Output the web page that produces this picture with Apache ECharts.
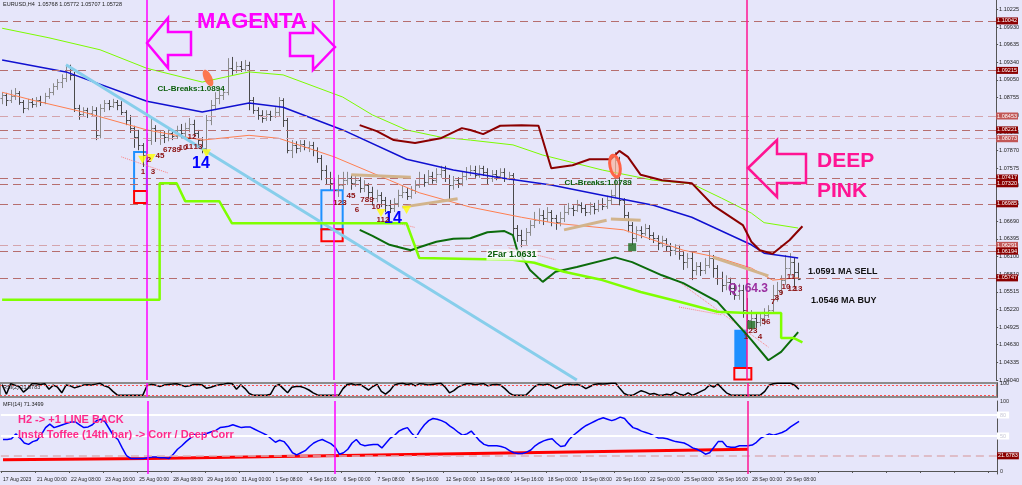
<!DOCTYPE html>
<html>
<head>
<meta charset="utf-8">
<title>EURUSD,H4</title>
<script src="https://cdn.jsdelivr.net/npm/echarts@6/dist/echarts.min.js"></script>
<style>
html, body { margin: 0; padding: 0; background: #e6e6fa; }
#main { width: 1022px; height: 485px; }
</style>
</head>
<body>
<div id="main"></div>
<script>
// time axis: one label every 8 H4 bars
var timeTicks = ['17 Aug 2023', '21 Aug 00:00', '22 Aug 08:00', '23 Aug 16:00', '25 Aug 00:00', '28 Aug 08:00',
	'29 Aug 16:00', '31 Aug 00:00', '1 Sep 08:00', '4 Sep 16:00', '6 Sep 00:00', '7 Sep 08:00', '8 Sep 16:00',
	'12 Sep 00:00', '13 Sep 08:00', '14 Sep 16:00', '18 Sep 00:00', '19 Sep 08:00', '20 Sep 16:00', '22 Sep 00:00',
	'25 Sep 08:00', '26 Sep 16:00', '28 Sep 00:00', '29 Sep 08:00'];

var priceTicks = ['1.04040', '1.04335', '1.04630', '1.04925', '1.05220', '1.05515', '1.05810', '1.06100', '1.06395',
	'1.06690', '1.06985', '1.07280', '1.07575', '1.07870', '1.08165', '1.08460', '1.08755', '1.09050', '1.09340',
	'1.09635', '1.09930', '1.10225'];

// horizontal levels drawn on the chart
var levelPrices = [1.10042, 1.09215, 1.08453, 1.08221, 1.08073, 1.07417, 1.07320, 1.06985, 1.06291, 1.06194, 1.05747];
var levelLight = [2, 4, 8];

// EURUSD H4 bars: [open, close, low, high]
var bars = [
	[1.0875,1.0880,1.0865,1.0885],[1.0880,1.0872,1.0862,1.0884],[1.0872,1.0879,1.0867,1.0889],[1.0879,1.0884,1.0872,1.0892],
	[1.0884,1.0869,1.0864,1.0887],[1.0869,1.0859,1.0850,1.0872],[1.0859,1.0869,1.0855,1.0874],[1.0869,1.0865,1.0859,1.0875],
	[1.0865,1.0872,1.0860,1.0877],[1.0872,1.0869,1.0862,1.0879],[1.0869,1.0879,1.0865,1.0884],[1.0879,1.0885,1.0874,1.0892],
	[1.0885,1.0895,1.0880,1.0900],[1.0895,1.0902,1.0889,1.0907],[1.0902,1.0909,1.0892,1.0915],[1.0909,1.0922,1.0902,1.0929],
	[1.0922,1.0914,1.0905,1.0931],[1.0914,1.0859,1.0852,1.0919],[1.0859,1.0849,1.0839,1.0864],[1.0849,1.0855,1.0844,1.0860],
	[1.0855,1.0850,1.0842,1.0859],[1.0850,1.0855,1.0845,1.0862],[1.0855,1.0813,1.0805,1.0860],[1.0813,1.0859,1.0808,1.0865],
	[1.0859,1.0867,1.0852,1.0872],[1.0867,1.0862,1.0855,1.0872],[1.0862,1.0869,1.0859,1.0874],[1.0869,1.0864,1.0855,1.0872],
	[1.0864,1.0852,1.0847,1.0870],[1.0852,1.0839,1.0830,1.0855],[1.0839,1.0825,1.0817,1.0847],[1.0825,1.0810,1.0792,1.0829],
	[1.0810,1.0797,1.0788,1.0822],[1.0797,1.0780,1.0760,1.0800],[1.0780,1.0805,1.0763,1.0817],[1.0805,1.0825,1.0797,1.0842],
	[1.0825,1.0808,1.0802,1.0830],[1.0808,1.0813,1.0797,1.0822],[1.0813,1.0810,1.0800,1.0820],[1.0810,1.0817,1.0803,1.0825],
	[1.0817,1.0812,1.0805,1.0823],[1.0812,1.0822,1.0807,1.0829],[1.0822,1.0817,1.0808,1.0832],[1.0817,1.0825,1.0810,1.0834],
	[1.0825,1.0832,1.0818,1.0842],[1.0832,1.0817,1.0810,1.0839],[1.0817,1.0805,1.0797,1.0822],[1.0805,1.0792,1.0783,1.0810],
	[1.0792,1.0839,1.0787,1.0847],[1.0839,1.0864,1.0830,1.0872],[1.0864,1.0875,1.0855,1.0885],[1.0875,1.0880,1.0865,1.0889],
	[1.0880,1.0885,1.0872,1.0892],[1.0885,1.0925,1.0880,1.0942],[1.0925,1.0922,1.0914,1.0944],[1.0922,1.0929,1.0917,1.0936],
	[1.0929,1.0924,1.0919,1.0937],[1.0924,1.0931,1.0920,1.0939],[1.0931,1.0872,1.0855,1.0936],[1.0872,1.0855,1.0849,1.0877],
	[1.0855,1.0847,1.0839,1.0860],[1.0847,1.0842,1.0834,1.0855],[1.0842,1.0849,1.0837,1.0855],[1.0849,1.0845,1.0837,1.0854],
	[1.0845,1.0852,1.0842,1.0860],[1.0852,1.0872,1.0844,1.0877],[1.0872,1.0839,1.0827,1.0875],[1.0839,1.0788,1.0783,1.0842],
	[1.0788,1.0797,1.0775,1.0805],[1.0797,1.0792,1.0783,1.0803],[1.0792,1.0798,1.0785,1.0805],[1.0798,1.0793,1.0788,1.0805],
	[1.0793,1.0797,1.0785,1.0803],[1.0797,1.0788,1.0778,1.0802],[1.0788,1.0775,1.0767,1.0793],[1.0775,1.0755,1.0738,1.0780],
	[1.0755,1.0742,1.0730,1.0763],[1.0742,1.0733,1.0722,1.0752],[1.0733,1.0722,1.0705,1.0742],[1.0722,1.0730,1.0710,1.0747],
	[1.0730,1.0738,1.0722,1.0752],[1.0738,1.0742,1.0730,1.0752],[1.0742,1.0733,1.0722,1.0747],[1.0733,1.0738,1.0727,1.0745],
	[1.0738,1.0725,1.0717,1.0743],[1.0725,1.0730,1.0718,1.0738],[1.0730,1.0718,1.0708,1.0733],[1.0718,1.0708,1.0696,1.0727],
	[1.0708,1.0713,1.0701,1.0722],[1.0713,1.0705,1.0693,1.0718],[1.0705,1.0696,1.0685,1.0710],[1.0696,1.0691,1.0683,1.0705],
	[1.0691,1.0700,1.0685,1.0708],[1.0700,1.0713,1.0693,1.0722],[1.0713,1.0718,1.0708,1.0730],[1.0718,1.0712,1.0705,1.0725],
	[1.0712,1.0722,1.0707,1.0728],[1.0722,1.0730,1.0715,1.0738],[1.0730,1.0742,1.0725,1.0752],[1.0742,1.0735,1.0727,1.0748],
	[1.0735,1.0745,1.0730,1.0755],[1.0745,1.0738,1.0732,1.0752],[1.0738,1.0748,1.0733,1.0758],[1.0748,1.0755,1.0742,1.0762],
	[1.0755,1.0742,1.0735,1.0762],[1.0742,1.0730,1.0705,1.0747],[1.0730,1.0738,1.0722,1.0745],[1.0738,1.0733,1.0725,1.0743],
	[1.0733,1.0745,1.0728,1.0752],[1.0745,1.0752,1.0738,1.0760],[1.0752,1.0755,1.0745,1.0763],[1.0755,1.0747,1.0742,1.0762],
	[1.0747,1.0758,1.0742,1.0763],[1.0758,1.0752,1.0745,1.0762],[1.0752,1.0742,1.0730,1.0758],[1.0742,1.0748,1.0735,1.0755],
	[1.0748,1.0745,1.0738,1.0755],[1.0745,1.0752,1.0742,1.0758],[1.0752,1.0742,1.0735,1.0758],[1.0742,1.0747,1.0738,1.0752],
	[1.0747,1.0658,1.0643,1.0750],[1.0658,1.0646,1.0635,1.0663],[1.0646,1.0638,1.0626,1.0655],[1.0638,1.0651,1.0630,1.0658],
	[1.0651,1.0663,1.0645,1.0671],[1.0663,1.0671,1.0658,1.0685],[1.0671,1.0680,1.0665,1.0691],[1.0680,1.0675,1.0663,1.0688],
	[1.0675,1.0685,1.0668,1.0693],[1.0685,1.0675,1.0661,1.0688],[1.0675,1.0668,1.0655,1.0680],[1.0668,1.0675,1.0661,1.0685],
	[1.0675,1.0685,1.0668,1.0696],[1.0685,1.0691,1.0680,1.0700],[1.0691,1.0688,1.0678,1.0696],[1.0688,1.0696,1.0685,1.0705],
	[1.0696,1.0691,1.0683,1.0701],[1.0691,1.0685,1.0678,1.0698],[1.0685,1.0695,1.0680,1.0701],[1.0695,1.0690,1.0681,1.0700],
	[1.0690,1.0698,1.0685,1.0705],[1.0698,1.0695,1.0688,1.0708],[1.0695,1.0705,1.0690,1.0712],[1.0705,1.0713,1.0698,1.0722],
	[1.0713,1.0772,1.0708,1.0785],[1.0772,1.0705,1.0696,1.0777],[1.0705,1.0680,1.0671,1.0708],[1.0680,1.0663,1.0651,1.0685],
	[1.0663,1.0641,1.0630,1.0668],[1.0641,1.0655,1.0635,1.0661],[1.0655,1.0650,1.0641,1.0661],[1.0650,1.0658,1.0645,1.0665],
	[1.0658,1.0646,1.0638,1.0663],[1.0646,1.0641,1.0633,1.0651],[1.0641,1.0633,1.0621,1.0646],[1.0633,1.0638,1.0626,1.0645],
	[1.0638,1.0628,1.0618,1.0641],[1.0628,1.0621,1.0611,1.0633],[1.0621,1.0625,1.0613,1.0631],[1.0625,1.0613,1.0605,1.0630],
	[1.0613,1.0601,1.0588,1.0618],[1.0601,1.0608,1.0591,1.0616],[1.0608,1.0588,1.0571,1.0618],[1.0588,1.0595,1.0579,1.0601],
	[1.0595,1.0588,1.0578,1.0601],[1.0588,1.0596,1.0581,1.0608],[1.0596,1.0608,1.0591,1.0621],[1.0608,1.0591,1.0575,1.0613],
	[1.0591,1.0575,1.0563,1.0596],[1.0575,1.0563,1.0551,1.0585],[1.0563,1.0568,1.0554,1.0579],[1.0568,1.0558,1.0546,1.0575],
	[1.0558,1.0546,1.0538,1.0566],[1.0546,1.0554,1.0538,1.0565],[1.0554,1.0521,1.0508,1.0563],[1.0521,1.0504,1.0479,1.0541],
	[1.0504,1.0508,1.0487,1.0521],[1.0508,1.0501,1.0491,1.0517],[1.0501,1.0508,1.0494,1.0516],[1.0508,1.0513,1.0496,1.0524],
	[1.0513,1.0521,1.0508,1.0529],[1.0521,1.0546,1.0517,1.0563],[1.0546,1.0554,1.0535,1.0568],[1.0554,1.0571,1.0546,1.0579],
	[1.0571,1.0591,1.0563,1.0613],[1.0591,1.0601,1.0579,1.0616],[1.0601,1.0585,1.0559,1.0608],[1.0585,1.0573,1.0571,1.0600]
];

// indicator lines, [bar index, price]
var maLime = [[0,1.0992],[11,1.0976],[23,1.0956],[34,1.0925],[47,1.0902],[58,1.0919],[66,1.0914],[80,1.0877],[87,1.0847],
	[95,1.0822],[103,1.0810],[110,1.0805],[120,1.0797],[127,1.0780],[141,1.0755],[153,1.0738],[162,1.0732],[169,1.0708],
	[176,1.0683],[179,1.0667],[187,1.0658]];
var maBlue = [[0,1.0939],[15,1.0919],[34,1.0870],[47,1.0852],[58,1.0867],[66,1.0860],[80,1.0822],[95,1.0773],[106,1.0755],
	[117,1.0742],[129,1.0730],[141,1.0713],[153,1.0696],[162,1.0676],[176,1.0630],[179,1.0616],[187,1.0608]];
var maCoral = [[0,1.0885],[7,1.0872],[19,1.0852],[34,1.0822],[47,1.0805],[58,1.0813],[65,1.0808],[78,1.0777],[91,1.0738],
	[98,1.0717],[110,1.0693],[122,1.0676],[130,1.0666],[146,1.0655],[160,1.0621],[168,1.0609],[176,1.0591],[181,1.0571],
	[187,1.0575]];
var bandUpper = [[84,1.0830],[88,1.0820],[92,1.0805],[97,1.0800],[103,1.0808],[108,1.0825],[110,1.0822],[113,1.0815],
	[117,1.0829],[122,1.0830],[126,1.0829],[129,1.0758],[134,1.0763],[138,1.0773],[143,1.0773],[145,1.0787],[147,1.0777],
	[150,1.0747],[155,1.0738],[162,1.0733],[167,1.0696],[174,1.0663],[176,1.0635],[178,1.0621],[181,1.0615],[185,1.0638],
	[188,1.0661]];
var bandLower = [[84,1.0655],[87,1.0645],[91,1.0630],[96,1.0621],[98,1.0626],[102,1.0635],[106,1.0640],[110,1.0641],
	[114,1.0651],[118,1.0653],[120,1.0646],[121,1.0621],[123,1.0600],[124,1.0588],[127,1.0568],[130,1.0585],[135,1.0593],
	[144,1.0609],[148,1.0601],[155,1.0579],[160,1.0566],[168,1.0535],[176,1.0471],[180,1.0437],[183,1.0451],[187,1.0484]];
var trailStop = [[0,1.0538],[37,1.0538],[37,1.0733],[41,1.0733],[43,1.0703],[51,1.0703],[54,1.0666],[95,1.0666],
	[98,1.0608],[120,1.0605],[125,1.0600],[132,1.0585],[141,1.0571],[150,1.0551],[160,1.0533],[168,1.0518],[175,1.0516],
	[183,1.0516],[183,1.0474],[186,1.0474],[188,1.0467]];

// lower panels
var rsiLine = [88,20,95,85,75,35,60,95,95,90, 95,55,85,70,30,85,80,65,75,85, 88,85,92,98,80,70,40,15,12,12,
	12,12,12,12,80,90,85,75,85,90, 92,95,85,75,80,90,90,85,62,70, 80,88,92,98,95,55,88,60,25,12,
	12,12,12,20,75,90,60,30,70,75, 75,65,50,30,15,12,12,12,12,12, 60,90,95,85,90,70,50,75,90,40,
	20,45,85,95,98,90,95,80,95,92, 85,90,95,98,70,30,45,70,85,95, 95,88,92,95,80,88,90,85,60,30,
	12,12,12,15,45,75,90,85,92,80, 60,75,88,92,85,90,80,60,75,90, 95,92,95,98,98,60,25,12,12,30,
	45,35,20,25,15,12,20,15,35,20, 12,30,12,25,40,55,85,70,92,60, 30,15,12,12,12,12,12,12,15,40,
	85,95,98,98,98,98,85,55];
var mfiLine = [45,45,46,53,47,40,38,42,44,52, 62,67,62,64,66,68,70,70,66,62, 63,66,72,74,70,60,50,45,33,22,
	18,18,18,18,19,20,20,19,19,18, 24,31,36,42,47,52,51,51,54,56, 58,62,63,64,66,64,62,63,63,60,
	57,54,51,46,41,44,42,35,26,23, 26,29,35,40,43,45,42,39,34,24, 26,31,40,45,38,36,37,38,38,33,
	40,47,51,57,60,62,54,48,58,66, 72,75,74,72,69,64,60,55,51,53, 57,50,43,38,36,36,36,35,33,29,
	26,25,25,27,30,36,40,43,45,46, 40,35,36,45,51,56,61,65,68,71, 74,76,74,72,74,77,75,68,62,60,
	57,55,53,50,47,47,46,44,42,41, 40,37,33,31,28,24,26,34,42,42, 35,34,34,36,36,36,37,41,47,50,
	53,51,53,55,58,63,67,71];
var mfiTrend = [[0,16],[34,18],[80,22],[122,26],[175,31]];
var mfiLevels = [80, 50];
var mfiMark = 21.6783;
var rsiLevels = [85, 15];

// marked bars
var magentaBars = [34, 78];
var deepPinkBar = 175;

var slots = [];
for (var s = 0; s < 234; s++) slots.push(s);

var chart = echarts.init(document.getElementById('main'));

function vLines(width) {
	return magentaBars.map(function (b) {
		return {xAxis: b, lineStyle: {color: '#ff00ff', width: width, type: 'solid'}, label: {show: false}};
	}).concat([{xAxis: deepPinkBar, lineStyle: {color: '#ff1493', width: width, type: 'solid'}, label: {show: false}}]);
}

function seg(a, b, color, width, type) {
	return [{coord: a, lineStyle: {color: color, width: width, type: type}, label: {show: false}}, {coord: b}];
}

function line(data, color, width, z, gi) {
	return {
		type: 'line', xAxisIndex: gi || 0, yAxisIndex: gi || 0, data: data, symbol: 'none',
		lineStyle: {color: color, width: width}, z: z, silent: true
	};
}

var ohlcData = bars.map(function (b, i) { return [i, b[0], b[1], b[2], b[3]]; });
var closes = bars.map(function (b) { return b[1]; });

// invisible carrier of the horizontal levels and drawn segments
var levelLine = line(closes, 'rgba(0,0,0,0)', 0, 1);
levelLine.markLine = {
	silent: true, symbol: ['none', 'none'], precision: 5,
	data: levelPrices.map(function (p, k) {
		var light = levelLight.indexOf(k) >= 0;
		return {
			yAxis: p,
			lineStyle: {color: light ? '#d4a4ac' : '#b66e6e', type: [8, 5], width: 1},
			label: {
				show: true, position: 'end', formatter: p.toFixed(5), distance: 0, color: '#fff',
				backgroundColor: light ? '#c25656' : '#8b0000', fontSize: 5.5, padding: [1, 1, 0, 1]
			}
		};
	}).concat(vLines(1.5), [
		seg([15, 1.0931], [135, 1.0404], '#87ceeb', 3, 'solid'),
		seg([82, 1.0747], [96, 1.0743], '#d2b48c', 3, 'solid'),
		seg([94, 1.0693], [107, 1.0707], '#d2b48c', 3, 'solid'),
		seg([132, 1.0655], [142, 1.0671], '#d2b48c', 3, 'solid'),
		seg([143, 1.0673], [150, 1.0671], '#d2b48c', 3, 'solid'),
		seg([167, 1.0609], [180, 1.0578], '#d2b48c', 3, 'solid'),
		seg([28, 1.0777], [39, 1.0750], '#ff8080', 1, 'dotted'),
		seg([93, 1.0666], [97, 1.0659], '#ff8080', 1, 'dotted'),
		seg([119, 1.0625], [130, 1.0605], '#ff8080', 1, 'dotted'),
		seg([159, 1.0568], [180, 1.0459], '#ff8080', 1, 'dotted'),
		seg([159, 1.0526], [169, 1.0513], '#ff8080', 1, 'dotted')
	])
};

var trail = line(trailStop, '#7fff00', 2.5, 6);
trail.markArea = {
	silent: true,
	data: [
		[{xAxis: 31, yAxis: 1.0785, itemStyle: {color: 'rgba(0,0,0,0)', borderColor: '#1e90ff', borderWidth: 2}}, {xAxis: 34, yAxis: 1.0720}],
		[{xAxis: 31, yAxis: 1.0720, itemStyle: {color: 'rgba(0,0,0,0)', borderColor: '#ff0000', borderWidth: 2}}, {xAxis: 34, yAxis: 1.0700}],
		[{xAxis: 75, yAxis: 1.0721, itemStyle: {color: 'rgba(0,0,0,0)', borderColor: '#1e90ff', borderWidth: 2}}, {xAxis: 80, yAxis: 1.0656}],
		[{xAxis: 75, yAxis: 1.0656, itemStyle: {color: 'rgba(0,0,0,0)', borderColor: '#ff0000', borderWidth: 2}}, {xAxis: 80, yAxis: 1.0636}],
		[{xAxis: 172, yAxis: 1.0488, itemStyle: {color: '#1e90ff', opacity: 1}}, {xAxis: 175, yAxis: 1.0424}],
		[{xAxis: 172, yAxis: 1.0424, itemStyle: {color: 'rgba(0,0,0,0)', borderColor: '#ff0000', borderWidth: 2}}, {xAxis: 176, yAxis: 1.0405}]
	]
};

var rsiSeries = line(rsiLine, '#000', 1.5, 3, 1);
rsiSeries.markLine = {
	silent: true, symbol: ['none', 'none'],
	data: rsiLevels.map(function (v) {
		return {yAxis: v, lineStyle: {color: '#ff5050', type: [2, 2], width: 1}, label: {show: false}};
	}).concat(vLines(1.5))
};

var mfiSeries = line(mfiLine, '#0000ff', 1.5, 4, 2);
mfiSeries.markLine = {
	silent: true, symbol: ['none', 'none'], precision: 4,
	data: mfiLevels.map(function (v) {
		return {
			yAxis: v, lineStyle: {color: '#ffffff', width: 2, type: 'solid'},
			label: {show: true, position: 'end', formatter: String(v), distance: 0, color: '#c8c8d8',
				backgroundColor: '#ffffff', fontSize: 5.5, padding: [1, 3, 0, 3]}
		};
	}).concat([
		{yAxis: mfiMark, lineStyle: {color: '#dcb0b8', width: 1.5, type: [8, 5]},
			label: {show: true, position: 'end', formatter: mfiMark.toFixed(4), distance: 0, color: '#fff',
				backgroundColor: '#8b0000', fontSize: 5.5, padding: [1, 1, 0, 1]}},
		{yAxis: 100, lineStyle: {color: 'rgba(0,0,0,0)'}, label: {show: true, position: 'end', formatter: '100', distance: 3, color: '#333', fontSize: 5.5}},
		{yAxis: 0, lineStyle: {color: 'rgba(0,0,0,0)'}, label: {show: true, position: 'end', formatter: '0', distance: 3, color: '#333', fontSize: 5.5}}
	], vLines(1.5))
};

function txt(x, y, text, font, fill, align, extra) {
	var o = {
		type: 'text', x: x, y: y, z: 100, silent: true,
		style: {text: text, font: font, fill: fill, textAlign: align || 'left', textVerticalAlign: 'middle', verticalAlign: 'middle'}
	};
	if (extra) for (var k in extra) o.style[k] = extra[k];
	return o;
}

function arrow(points, color) {
	return {type: 'polygon', z: 90, silent: true, shape: {points: points},
		style: {fill: 'rgba(0,0,0,0)', stroke: color, lineWidth: 2.5}};
}

var countFont = 'bold 8px "Liberation Sans"';
var countLabels = [
	['1', 143, 172], ['2', 149, 160], ['3', 153, 172], ['45', 160, 156], ['6789', 172, 150], ['10', 183, 148],
	['11', 189, 147], ['12', 192, 137], ['13', 198, 147],
	['123', 340, 203], ['45', 351, 196], ['6', 357, 210], ['789', 367, 200], ['10', 376, 207], ['112', 383, 220],
	['1', 746, 337], ['23', 753, 331], ['4', 760, 337], ['56', 766, 322], ['7', 773, 302], ['8', 777, 298],
	['9', 781, 293], ['10', 786, 287], ['11', 791, 277], ['12', 792, 289], ['13', 798, 289]
];

var graphics = [
	txt(3, 4, 'EURUSD,H4  1.05768 1.05772 1.05707 1.05728', '5.5px "Liberation Sans"', '#222'),
	txt(3, 387, 'RSI(2) 21.6783', '5.5px "Liberation Sans"', '#222'),
	txt(3, 404, 'MFI(14) 71.3499', '5.5px "Liberation Sans"', '#222'),
	arrow([[147, 43], [168, 18], [168, 32], [191, 32], [191, 55], [168, 55], [168, 68]], '#ff00ff'),
	arrow([[335, 47], [313, 24], [313, 33], [290, 33], [290, 56], [313, 56], [313, 70]], '#ff00ff'),
	arrow([[748, 168], [777, 140], [777, 154], [806, 154], [806, 183], [777, 183], [777, 197]], '#ff1493'),
	txt(197, 22, 'MAGENTA', 'bold 22px "Liberation Sans"', '#ff00ff'),
	txt(817, 161, 'DEEP', 'bold 21px "Liberation Sans"', '#ff1493'),
	txt(817, 191, 'PINK', 'bold 21px "Liberation Sans"', '#ff1493'),
	{type: 'ellipse', x: 208, y: 78, rotation: 0.45, z: 80, silent: true, shape: {cx: 0, cy: 0, rx: 4, ry: 9},
		style: {fill: '#ff6a3d', opacity: 0.9}},
	{type: 'ellipse', x: 615, y: 166, rotation: 0.2, z: 80, silent: true, shape: {cx: 0, cy: 0, rx: 5, ry: 11},
		style: {fill: 'rgba(255,170,140,0.6)', stroke: '#ff6347', lineWidth: 3}},
	txt(191, 89, 'CL-Breaks:1.0894', 'bold 8px "Liberation Sans"', '#0b5e0b', 'center'),
	txt(598, 183, 'CL-Breaks:1.0789', 'bold 8px "Liberation Sans"', '#0b5e0b', 'center'),
	txt(512, 255, '2Far 1.0631', 'bold 9px "Liberation Sans"', '#0b5e0b', 'center',
		{backgroundColor: 'rgba(255,255,255,0.75)', padding: [1, 1]}),
	txt(201, 164, '14', 'bold 16px "Liberation Sans"', '#0000ff', 'center'),
	txt(393, 219, '14', 'bold 16px "Liberation Sans"', '#0000ff', 'center'),
	txt(748, 289, 'Q: 64.3', 'bold 12px "Liberation Sans"', '#9a2fa0', 'center'),
	txt(808, 272, '1.0591 MA SELL', 'bold 9px "Liberation Sans"', '#111'),
	txt(811, 301, '1.0546 MA BUY', 'bold 9px "Liberation Sans"', '#111'),
	txt(18, 420, 'H2 -> +1 LINE BACK', 'bold 11px "Liberation Sans"', '#ff2a8a'),
	txt(18, 435, 'Insta Toffee (14th bar) -> Corr / Deep Corr', 'bold 11px "Liberation Sans"', '#ff2a8a')
];
countLabels.forEach(function (c) {
	graphics.push(txt(c[1], c[2], c[0], countFont, '#8b1010', 'center'));
});

var hiddenX = function (gi) {
	return {type: 'category', gridIndex: gi, data: slots, boundaryGap: true, show: false};
};

var option = {
	backgroundColor: '#e6e6fa',
	animation: false,
	textStyle: {fontFamily: 'Liberation Sans'},
	grid: [
		{left: 0, right: 25, top: 0, height: 380},
		{left: 0, right: 25, top: 383, height: 14, show: true, borderColor: '#8c8c8c', borderWidth: 2},
		{left: 0, right: 25, top: 401, height: 73}
	],
	xAxis: [hiddenX(0), hiddenX(1), {
		type: 'category', gridIndex: 2, data: slots, boundaryGap: true,
		axisLine: {lineStyle: {color: '#555'}},
		axisTick: {show: true, length: 2, lineStyle: {color: '#555'}, interval: function (i) { return i % 8 === 0; }},
		axisLabel: {
			interval: function (i) { return i % 8 === 0; },
			formatter: function (v, i) { return timeTicks[i / 8] || ''; },
			fontSize: 5, color: '#222', align: 'left', margin: 3, hideOverlap: false
		},
		splitLine: {show: false}
	}],
	yAxis: [{
		type: 'value', gridIndex: 0, position: 'right', min: 1.0404, max: 1.10392, interval: 0.00295,
		axisLine: {show: true, lineStyle: {color: '#555'}},
		axisTick: {show: true, length: 2, lineStyle: {color: '#555'}},
		splitLine: {show: false},
		axisLabel: {
			fontSize: 5.5, color: '#222', margin: 3, showMaxLabel: false,
			formatter: function (v) { return priceTicks[Math.round((v - 1.0404) / 0.00295)] || ''; }
		}
	}, {
		type: 'value', gridIndex: 1, position: 'right', min: 0, max: 100, interval: 100,
		axisLine: {show: true, lineStyle: {color: '#555'}}, axisTick: {show: false}, splitLine: {show: false},
		axisLabel: {fontSize: 5.5, color: '#222', margin: 3, formatter: function (v) { return v === 100 ? '100' : ''; }}
	}, {
		type: 'value', gridIndex: 2, position: 'right', min: -4.3, max: 100,
		axisLine: {show: true, lineStyle: {color: '#555'}}, axisTick: {show: false}, splitLine: {show: false},
		axisLabel: {show: false}
	}],
	series: [
		levelLine,
		{
			type: 'custom', xAxisIndex: 0, yAxisIndex: 0, z: 3, silent: true,
			encode: {x: 0, y: [1, 2, 3, 4]},
			data: ohlcData,
			renderItem: function (params, api) {
				var i = api.value(0);
				var open = api.coord([i, api.value(1)]);
				var close = api.coord([i, api.value(2)]);
				var low = api.coord([i, api.value(3)]);
				var high = api.coord([i, api.value(4)]);
				var x = Math.round(open[0]) + 0.5;
				var col = api.value(2) >= api.value(1) ? '#8a8a8a' : '#4a4a4a';
				var st = {stroke: col, lineWidth: 1};
				var yo = Math.round(open[1]) + 0.5, yc = Math.round(close[1]) + 0.5;
				return {type: 'group', children: [
					{type: 'line', shape: {x1: x, y1: high[1], x2: x, y2: low[1]}, style: st},
					{type: 'line', shape: {x1: x - 2, y1: yo, x2: x, y2: yo}, style: st},
					{type: 'line', shape: {x1: x, y1: yc, x2: x + 2, y2: yc}, style: st}
				]};
			}
		},
		line(maLime, '#7cfc00', 1, 4),
		line(maBlue, '#1010d0', 1.5, 4),
		line(maCoral, '#ff7f50', 1, 4),
		line(bandUpper, '#8b0000', 2, 5),
		line(bandLower, '#0b6b0b', 2, 5),
		trail,
		{
			type: 'scatter', xAxisIndex: 0, yAxisIndex: 0, z: 7, silent: true,
			symbol: 'triangle', symbolRotate: 180, symbolSize: [9, 8], itemStyle: {color: '#ffff00'},
			data: [[33, 1.0772], [35, 1.0775], [48, 1.0783], [89, 1.0683], [95, 1.0688]]
		},
		{
			type: 'scatter', xAxisIndex: 0, yAxisIndex: 0, z: 7, silent: true,
			symbol: 'rect', symbolSize: 8, itemStyle: {color: '#1b6b1b'},
			data: [[148, 1.0626], [176, 1.0496]]
		},
		rsiSeries,
		line(mfiTrend, '#ff0000', 3, 3, 2),
		mfiSeries
	],
	graphic: graphics
};

chart.setOption(option);
</script>
</body>
</html>
